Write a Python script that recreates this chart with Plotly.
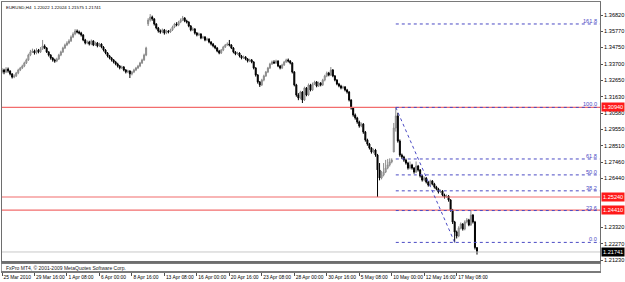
import plotly.graph_objects as go

# ---------------- data (prices in 1e-4 units) ----------------
first_open = 13320
gap_opens = {72: 13625, 193: 12810}

closes = [
    13332, 13319, 13338, 13326, 13307, 13287, 13294, 13313, 13332, 13345,
    13357, 13377, 13396, 13427, 13447, 13453, 13440, 13459, 13447, 13466,
    13485, 13472, 13447, 13427, 13408, 13396, 13389, 13402, 13427, 13447,
    13472, 13491, 13504, 13517, 13542, 13561, 13580, 13574, 13567, 13555,
    13523, 13504, 13510, 13497, 13517, 13491, 13504, 13485, 13497, 13478,
    13459, 13440, 13421, 13408, 13396, 13383, 13370, 13357, 13345, 13351,
    13332, 13319, 13326, 13307, 13319, 13332, 13345, 13357, 13377, 13396,
    13427, 13472, 13650, 13669, 13657, 13625, 13599, 13580, 13574, 13587,
    13567, 13580, 13574, 13587, 13606, 13625, 13618, 13637, 13650, 13663,
    13644, 13637, 13612, 13587, 13593, 13567, 13555, 13561, 13536, 13542,
    13523, 13529, 13510, 13497, 13485, 13472, 13453, 13440, 13459, 13478,
    13491, 13497, 13491, 13472, 13447, 13434, 13440, 13421, 13408, 13415,
    13402, 13389, 13396, 13383, 13345, 13300, 13256, 13237, 13268, 13294,
    13319, 13345, 13370, 13383, 13377, 13389, 13357, 13345, 13364, 13383,
    13396, 13389, 13377, 13319, 13237, 13173, 13154, 13192, 13141, 13218,
    13173, 13237, 13205, 13243, 13256, 13230, 13249, 13237, 13268, 13294,
    13313, 13300, 13332, 13294, 13268, 13243, 13230, 13218, 13224, 13205,
    13192, 13141, 13090, 13046, 13027, 13001, 12976, 12988, 12937, 12887,
    12861, 12836, 12810, 12823, 12791, 12696, 12645, 12664, 12683, 12708,
    12728, 12747, 12759, 12963, 13040, 12880, 12791, 12778, 12759, 12740,
    12708, 12728, 12708, 12683, 12721, 12696, 12658, 12632, 12645, 12619,
    12600, 12626, 12607, 12588, 12575, 12556, 12562, 12537, 12524, 12530,
    12505, 12441, 12365, 12301, 12276, 12327, 12352, 12320, 12365, 12378,
    12346, 12409, 12365, 12202.2, 12174.1,
]

highs = [
    13345, 13340, 13350, 13348, 13330, 13312, 13305, 13320, 13340, 13352,
    13366, 13385, 13405, 13436, 13460, 13468, 13462, 13470, 13466, 13478,
    13523, 13495, 13478, 13452, 13433, 13415, 13404, 13410, 13435, 13455,
    13480, 13500, 13515, 13528, 13552, 13572, 13592, 13590, 13583, 13575,
    13560, 13530, 13520, 13518, 13526, 13522, 13512, 13510, 13505, 13502,
    13484, 13465, 13446, 13428, 13415, 13402, 13390, 13378, 13364, 13360,
    13357, 13338, 13334, 13330, 13326, 13340, 13352, 13365, 13384, 13404,
    13436, 13480, 13662, 13688, 13678, 13662, 13630, 13606, 13590, 13596,
    13593, 13588, 13586, 13595, 13614, 13632, 13636, 13645, 13660, 13676,
    13668, 13652, 13642, 13618, 13604, 13598, 13574, 13570, 13566, 13550,
    13548, 13538, 13534, 13516, 13504, 13490, 13478, 13460, 13466, 13486,
    13498, 13508, 13523, 13496, 13478, 13452, 13448, 13445, 13428, 13424,
    13420, 13408, 13404, 13402, 13388, 13350, 13306, 13262, 13276, 13302,
    13326, 13352, 13378, 13392, 13394, 13398, 13394, 13364, 13372, 13390,
    13404, 13405, 13395, 13382, 13325, 13244, 13185, 13200, 13198, 13226,
    13224, 13246, 13244, 13252, 13264, 13262, 13258, 13255, 13276, 13302,
    13322, 13320, 13351, 13338, 13300, 13274, 13250, 13238, 13232, 13230,
    13212, 13198, 13146, 13096, 13055, 13034, 13010, 12998, 12994, 12944,
    12895, 12868, 12842, 12832, 12830, 12798, 12740, 12690, 12740, 12760,
    12766, 12770, 12770, 12995, 13094, 13060, 12890, 12800, 12786, 12768,
    12748, 12750, 12735, 12714, 12750, 12728, 12702, 12664, 12654, 12650,
    12626, 12634, 12632, 12614, 12595, 12582, 12572, 12568, 12545, 12540,
    12536, 12510, 12448, 12372, 12310, 12338, 12362, 12358, 12375, 12390,
    12385, 12441, 12415, 12372, 12202.4,
]

lows = [
    13310, 13305, 13312, 13315, 13298, 13278, 13280, 13288, 13305, 13325,
    13338, 13350, 13370, 13390, 13420, 13440, 13430, 13432, 13438, 13440,
    13460, 13465, 13440, 13418, 13398, 13385, 13378, 13382, 13396, 13420,
    13440, 13465, 13484, 13496, 13510, 13535, 13553, 13565, 13558, 13545,
    13515, 13495, 13496, 13488, 13490, 13484, 13485, 13476, 13478, 13470,
    13450, 13432, 13412, 13400, 13386, 13374, 13362, 13348, 13336, 13338,
    13324, 13310, 13312, 13281, 13298, 13312, 13325, 13338, 13350, 13370,
    13390, 13420, 13612, 13640, 13645, 13615, 13590, 13570, 13563, 13566,
    13557, 13560, 13565, 13568, 13580, 13598, 13610, 13611, 13630, 13643,
    13636, 13628, 13604, 13578, 13580, 13558, 13546, 13548, 13528, 13530,
    13515, 13516, 13502, 13488, 13476, 13464, 13445, 13432, 13434, 13452,
    13472, 13485, 13482, 13465, 13438, 13426, 13428, 13412, 13400, 13402,
    13394, 13380, 13382, 13375, 13336, 13290, 13245, 13224, 13230, 13260,
    13288, 13312, 13338, 13364, 13370, 13370, 13350, 13336, 13338, 13358,
    13377, 13380, 13368, 13310, 13228, 13162, 13140, 13145, 13122, 13135,
    13165, 13166, 13196, 13198, 13236, 13222, 13224, 13228, 13230, 13260,
    13286, 13292, 13294, 13286, 13260, 13235, 13222, 13209, 13210, 13196,
    13182, 13132, 13080, 13035, 13016, 12990, 12965, 12968, 12926, 12876,
    12850, 12826, 12800, 12802, 12780, 12524, 12630, 12636, 12655, 12676,
    12700, 12718, 12738, 12810, 12940, 12870, 12780, 12766, 12748, 12730,
    12698, 12700, 12698, 12672, 12676, 12686, 12648, 12622, 12624, 12610,
    12590, 12594, 12598, 12578, 12566, 12546, 12550, 12528, 12514, 12518,
    12494, 12430, 12352, 12235, 12260, 12268, 12318, 12310, 12312, 12356,
    12338, 12340, 12355, 12190, 12157.5,
]

date_labels = ["25 Mar 2010", "29 Mar 16:00", "1 Apr 08:00", "6 Apr 00:00",
               "8 Apr 16:00", "13 Apr 08:00", "16 Apr 00:00", "20 Apr 16:00",
               "23 Apr 08:00", "28 Apr 00:00", "30 Apr 16:00", "5 May 08:00",
               "10 May 00:00", "12 May 16:00", "17 May 08:00"]
bars_per_label = 16

price_ticks = ["1.36820", "1.35770", "1.34750", "1.33700", "1.32650", "1.31630",
               "1.30580", "1.29550", "1.28510", "1.27460", "1.26440",
               "1.23320", "1.22270", "1.21230"]

fib_high = 1.3094
fib_low = 1.2235
fib_start_bar = 194
fib_end_bar = 223
fib_levels = [0.0, 23.6, 38.2, 50.0, 61.8, 100.0, 161.8]
red_lines = [1.30940, 1.25240, 1.24410]
last_price = 1.21741
header = "EURUSD,H4  1.22022 1.22024 1.21575 1.21741"
copyright_text = "FxPro MT4, \u00a9 2001-2009 MetaQuotes Software Corp."

# ---------------- build ----------------
C = [v / 10000 for v in closes]
H = [v / 10000 for v in highs]
L = [v / 10000 for v in lows]
O = [first_open / 10000] + C[:-1]
for k, v in gap_opens.items():
    O[k] = v / 10000
H = [max(h, o, c) for h, o, c in zip(H, O, C)]
L = [min(l, o, c) for l, o, c in zip(L, O, C)]
X = list(range(len(C)))

W, HGT = 625, 282
ml, mr, mt, mb = 1, 20, 2, 11
ph = HGT - mt - mb
main_bottom_px = 262
sub_top_px = 264
main_dom = [(HGT - mb - main_bottom_px) / ph, 1]
sub_dom = [0, (HGT - mb - sub_top_px) / ph]

xr = [0, 294.6]
yr = [1.21103, 1.37647]

FONT = "Liberation Sans"
fs = 5.6

fig = go.Figure()
fig.add_trace(go.Candlestick(
    x=X, open=O, high=H, low=L, close=C,
    increasing=dict(line=dict(color="#8a8a8a", width=1), fillcolor="#c4c4c4"),
    decreasing=dict(line=dict(color="#000000", width=1), fillcolor="#000000"),
    whiskerwidth=0, hoverinfo="skip", showlegend=False,
    xaxis="x", yaxis="y",
))
fig.add_trace(go.Scatter(x=[None], y=[None], xaxis="x2", yaxis="y2",
                         showlegend=False, hoverinfo="skip"))

shapes = []
for p in red_lines:
    shapes.append(dict(type="line", xref="x", yref="y", x0=xr[0], x1=xr[1],
                       y0=p, y1=p, line=dict(color="#f26d6d", width=1.2)))
shapes.append(dict(type="line", xref="x", yref="y", x0=xr[0], x1=xr[1],
                   y0=last_price, y1=last_price,
                   line=dict(color="#c8c8c8", width=1)))
rng = fib_high - fib_low
fib_color = "#4a4ac4"
for lv in fib_levels:
    p = fib_low + rng * lv / 100
    shapes.append(dict(type="line", xref="x", yref="y", x0=fib_start_bar,
                       x1=xr[1], y0=p, y1=p,
                       line=dict(color=fib_color, width=1, dash="dot")))
shapes.append(dict(type="line", xref="x", yref="y", x0=fib_start_bar,
                   x1=fib_end_bar, y0=fib_high, y1=fib_low,
                   line=dict(color=fib_color, width=1, dash="dot")))
shapes.append(dict(type="line", xref="paper", yref="paper", x0=0, x1=1,
                   y0=main_dom[0], y1=main_dom[0],
                   line=dict(color="#6e6e6e", width=2)))

annotations = []
for lv in fib_levels:
    p = fib_low + rng * lv / 100
    annotations.append(dict(xref="paper", yref="y", x=1, y=p, xanchor="right",
                            yanchor="bottom", xshift=-1, yshift=-2,
                            text=f"{lv:.1f}", showarrow=False,
                            font=dict(family=FONT, size=fs, color=fib_color)))
for p in red_lines:
    annotations.append(dict(xref="paper", yref="y", x=1, y=p, xanchor="left",
                            yanchor="middle", xshift=1, text=f"{p:.5f}",
                            showarrow=False, bgcolor="#ff1a1a", borderpad=1,
                            font=dict(family=FONT, size=fs, color="white")))
annotations.append(dict(xref="paper", yref="y", x=1, y=last_price,
                        xanchor="left", yanchor="middle", xshift=1,
                        text=f"{last_price:.5f}", showarrow=False,
                        bgcolor="#000000", borderpad=1,
                        font=dict(family=FONT, size=fs, color="white")))
annotations.append(dict(xref="paper", yref="paper", x=0, y=1, xanchor="left",
                        yanchor="top", xshift=2, yshift=-1, text=header,
                        showarrow=False,
                        font=dict(family=FONT, size=4.4, color="black")))
annotations.append(dict(xref="paper", yref="y2 domain", x=0, y=0.5,
                        xanchor="left", yanchor="middle", xshift=2,
                        text=copyright_text, showarrow=False,
                        font=dict(family=FONT, size=5, color="#202020")))

tickvals = [i * bars_per_label for i in range(len(date_labels))]
tv_price = [float(t) for t in price_ticks]

fig.update_layout(
    width=W, height=HGT,
    margin=dict(l=ml, r=mr, t=mt, b=mb, pad=0),
    paper_bgcolor="white", plot_bgcolor="white",
    font=dict(family=FONT, size=fs, color="black"),
    showlegend=False, hovermode=False,
    xaxis=dict(domain=[0, 1], range=xr, anchor="y", showticklabels=False,
               showgrid=False, zeroline=False, showline=True, mirror=True,
               linecolor="#7a7a7a", linewidth=1, ticks="",
               rangeslider=dict(visible=False), fixedrange=True),
    yaxis=dict(domain=main_dom, range=yr, side="right", anchor="x",
               tickvals=tv_price, ticktext=price_ticks, ticks="outside",
               ticklen=2, tickcolor="#505050", showgrid=False, zeroline=False,
               showline=True, mirror=True, linecolor="#6e6e6e", linewidth=1,
               tickfont=dict(family=FONT, size=fs, color="black"),
               fixedrange=True),
    xaxis2=dict(domain=[0, 1], range=xr, anchor="y2", matches="x",
                tickvals=tickvals, ticktext=date_labels, ticks="outside",
                ticklen=3, tickcolor="#505050", tickangle=0,
                ticklabelposition="outside right",
                showgrid=False, zeroline=False, showline=True, mirror=True,
                linecolor="#7a7a7a", linewidth=2,
                tickfont=dict(family=FONT, size=4.9, color="black")),
    yaxis2=dict(domain=sub_dom, range=[0, 1], anchor="x2", side="right",
                showticklabels=False, ticks="", showgrid=False,
                zeroline=False, showline=True, mirror=True,
                linecolor="#9a9a9a", linewidth=1),
    shapes=shapes, annotations=annotations,
)

fig.write_html("out.html")
